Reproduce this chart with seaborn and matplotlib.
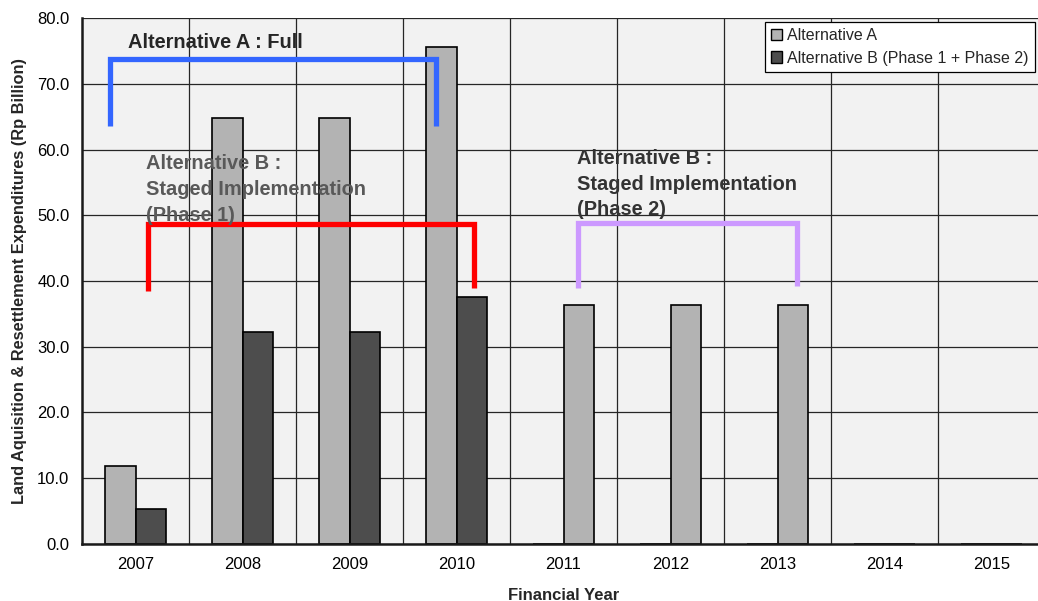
import numpy as np
import pandas as pd
import matplotlib
matplotlib.use("Agg")
import matplotlib.pyplot as plt
from matplotlib.patches import Patch
import seaborn as sns

# data
years = ['2007', '2008', '2009', '2010', '2011', '2012', '2013', '2014', '2015']
alt_a = [11.8, 64.8, 64.8, 75.7, 0, 0, 0, 0, 0]
alt_b = [5.3, 32.2, 32.2, 37.5, 36.3, 36.3, 36.3, 0, 0]
series_names = ['Alternative A', 'Alternative B (Phase 1 + Phase 2)']
phase2_years = ['2011', '2012', '2013']

colors = ['#b3b3b3', '#4d4d4d']

df = pd.DataFrame({
    'year': years * 2,
    'value': alt_a + alt_b,
    'series': [series_names[0]] * len(years) + [series_names[1]] * len(years),
})

sns.set_theme(style='white')
plt.rcParams['font.family'] = ['Liberation Sans', 'DejaVu Sans']

fig = plt.figure(figsize=(10.38, 6.01), dpi=100)
# plot area runs a bit past the right edge, as in the original
ax = fig.add_axes([82 / 1038, 57.5 / 601, (1045 - 82) / 1038, (543.5 - 18.3) / 601])
ax.set_facecolor('#f2f2f2')

sns.barplot(data=df, x='year', y='value', hue='series', palette=colors,
            width=0.57, gap=0, saturation=1, edgecolor='black', linewidth=1.2,
            legend=False, ax=ax)

# phase 2 bars of alternative B are drawn in the light grey
for bar, yr in zip(ax.containers[1], years):
    if yr in phase2_years:
        bar.set_facecolor(colors[0])

ax.set_xlim(-0.5, len(years) - 0.5)
ax.set_ylim(0, 80)
ax.set_yticks(np.arange(0, 81, 10))
ax.set_yticklabels([f'{v:.1f}' for v in np.arange(0, 81, 10)])
ax.set_xticks(np.arange(0.5, len(years) - 1, 1), minor=True)

ax.set_axisbelow(True)
ax.yaxis.grid(True, color='#262626', lw=0.9)
ax.xaxis.grid(True, which='minor', color='#262626', lw=0.9)
ax.xaxis.grid(False, which='major')

ax.tick_params(axis='both', which='both', length=0, labelsize=12, colors='black')
ax.tick_params(axis='y', pad=9)
ax.tick_params(axis='x', pad=10)

for s in ['top', 'right']:
    ax.spines[s].set_visible(False)
for s in ['left', 'bottom']:
    ax.spines[s].set_color('#1a1a1a')
    ax.spines[s].set_linewidth(1.8)

ax.set_xlabel('Financial Year', fontsize=12, fontweight='bold', labelpad=11)
ax.set_ylabel('Land Aquisition & Resettlement Expenditures (Rp Billion)',
              fontsize=11.8, fontweight='bold', labelpad=7)

# brackets showing the implementation periods
def bracket(x0, x1, ytop, yl, yr, color):
    ax.plot([x0, x0, x1, x1], [yl, ytop, ytop, yr], color=color, lw=3.8,
            solid_joinstyle='miter', solid_capstyle='butt', zorder=5)

bracket(-0.238, 2.808, 73.8, 63.6, 63.6, '#3366ff')
bracket(0.12, 3.16, 48.7, 38.4, 38.9, '#ff0000')
bracket(4.14, 6.18, 48.8, 38.9, 39.2, '#cc99ff')

ax.text(-0.073, 75.4, 'Alternative A : Full', fontsize=14.4, fontweight='bold',
        color='#262626', va='baseline', ha='left', zorder=6)

def label_block(x, y0, lines, color, step=3.9):
    for i, line in enumerate(lines):
        ax.text(x, y0 - i * step, line, fontsize=14.4, fontweight='bold',
                color=color, va='baseline', ha='left', zorder=6)

label_block(0.098, 57.0, ['Alternative B :', 'Staged Implementation', '(Phase 1)'], '#595959')
label_block(4.13, 57.8, ['Alternative B :', 'Staged Implementation', '(Phase 2)'], '#333333')

handles = [Patch(facecolor=c, edgecolor='black', lw=1.0) for c in colors]
leg = ax.legend(handles, series_names, loc='upper right',
                bbox_to_anchor=(1035 / 1038, 1 - 22 / 601), bbox_transform=fig.transFigure,
                fontsize=11.5, frameon=True, fancybox=False, framealpha=1,
                edgecolor='black', handlelength=0.7, handleheight=0.7,
                handletextpad=0.3, borderpad=0.4, labelspacing=0.45, borderaxespad=0)
leg.get_frame().set_linewidth(0.9)
leg.set_zorder(10)

fig.savefig('out.png', dpi=100)
